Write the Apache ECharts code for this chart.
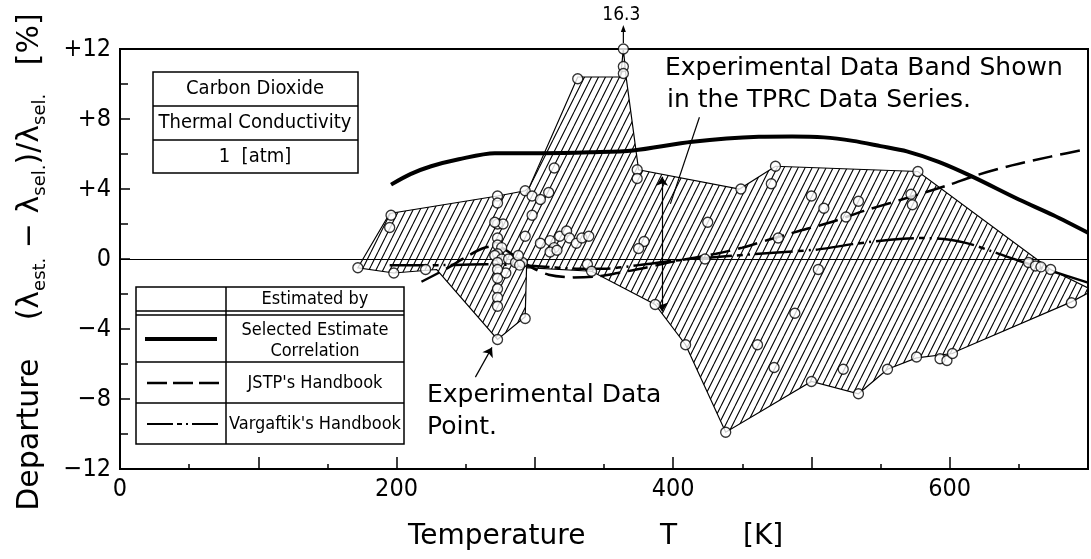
<!DOCTYPE html>
<html>
<head>
<meta charset="utf-8">
<script src="https://cdn.jsdelivr.net/npm/echarts@6/dist/echarts.min.js"></script>
<style>
  html, body { margin: 0; padding: 0; background: #fff; }
  #chart { width: 1091px; height: 559px; }
</style>
</head>
<body>
<div id="chart"></div>
<script>
// ---- axis ranges ----
const xMin = 0, xMax = 700, xStep = 100;
const yMin = -12, yMax = 12, yStep = 4;

// ---- estimate curves: temperature [K] and departure [%] ----
const selK = [196, 210, 225, 245, 271, 305, 340, 371, 414, 462, 486, 509, 530, 550, 569, 592, 616, 650, 675, 700];
const selV = [4.25, 4.85, 5.3, 5.7, 6.05, 6.05, 6.1, 6.2, 6.7, 6.98, 7.0, 6.95, 6.75, 6.45, 6.15, 5.55, 4.72, 3.4, 2.5, 1.5];

const jstpK = [218, 235, 250, 262, 272, 285, 297, 310, 328, 345, 360, 380, 400, 431, 450, 469, 491, 514, 538, 557, 598, 620, 645, 673, 700];
const jstpV = [-1.3, -0.6, 0.1, 0.6, 0.75, 0.2, -0.45, -0.9, -1.05, -1.0, -0.8, -0.5, -0.15, 0.3, 0.65, 1.1, 1.6, 2.1, 2.75, 3.2, 4.2, 4.8, 5.35, 5.85, 6.3];

const vargK = [195, 230, 265, 300, 330, 350, 375, 400, 414, 462, 505, 530, 557, 580, 600, 615, 630, 650, 674, 700];
const vargV = [-0.35, -0.35, -0.3, -0.4, -0.55, -0.55, -0.35, -0.1, 0.0, 0.3, 0.55, 0.85, 1.1, 1.2, 1.1, 0.85, 0.45, -0.1, -0.7, -1.35];

// ---- TPRC experimental data band (outline, upper edge then lower edge) ----
const bandUpperK = [172, 195, 273, 293, 296, 331, 362, 364, 366, 375, 448, 474, 577, 673, 700];
const bandUpperV = [-0.5, 2.6, 3.6, 3.9, 4.1, 10.4, 10.4, 12, 10.4, 5.1, 4.0, 5.3, 5.0, -0.6, -1.65];
const bandLowerK = [700, 688, 607, 602, 576, 555, 534, 500, 438, 409, 387, 341, 294, 293, 273, 229, 198, 172];
const bandLowerV = [-1.95, -2.45, -5.2, -5.4, -5.65, -6.3, -7.7, -7.0, -9.9, -4.9, -2.6, -0.7, -0.5, -3.3, -4.6, -0.6, -0.8, -0.5];

// ---- experimental data points ----
const pointK = [172, 196, 195, 198, 221,
  273, 273, 293, 298, 304, 310, 314, 331, 364, 364, 364, 374, 374,
  298, 273, 277, 271, 293, 273, 273, 276, 273, 271, 276, 281, 286, 291, 288, 289, 273, 279, 273, 273, 273, 273, 273, 293, 273,
  304, 311, 314, 318, 323, 325, 330, 334, 339, 311, 316, 338, 341,
  379, 375, 387, 409, 425, 423, 438,
  449, 474, 471, 500, 509, 534, 525, 476, 505, 488, 461, 473, 500, 523, 534, 555,
  577, 572, 573, 576, 593, 598, 602,
  657, 662, 666, 673, 688];
const pointV = [-0.5, 2.5, 1.8, -0.8, -0.6,
  3.6, 3.2, 3.9, 3.6, 3.4, 3.8, 5.2, 10.3, 16.3, 11.0, 10.6, 5.1, 4.6,
  2.5, 2.0, 2.0, 2.1, 1.3, 1.2, 0.8, 0.65, 0.3, 0.2, 0.0, 0.0, -0.2, -0.2, 0.2, -0.35, -0.2, -0.8, -0.6, -1.1, -1.7, -2.2, -2.7, -3.4, -4.6,
  0.9, 1.05, 0.65, 1.3, 1.6, 1.2, 0.9, 1.2, 1.3, 0.4, 0.5, -0.3, -0.7,
  1.0, 0.6, -2.6, -4.9, 2.1, 0.0, -9.9,
  4.0, 5.3, 4.3, 3.6, 2.9, 3.3, 2.4, 1.2, -0.6, -3.1, -4.9, -6.2, -7.0, -6.3, -7.7, -6.3,
  5.0, 3.7, 3.1, -5.6, -5.7, -5.8, -5.4,
  -0.2, -0.4, -0.45, -0.6, -2.5];

// ---- fonts ----
const NARROW = "'Liberation Sans Narrow','DejaVu Sans Condensed','Roboto Condensed','Liberation Sans',sans-serif";
const WIDE = "'DejaVu Sans','Verdana',sans-serif";

const pairs = (ks, vs) => ks.map((k, i) => [k, vs[i]]);

// diagonal hatching tile for the data band
function hatchTile() {
  const c = document.createElement('canvas');
  c.width = 7; c.height = 14;
  const g = c.getContext('2d');
  g.strokeStyle = '#000';
  g.lineWidth = 1.1;
  g.beginPath();
  for (const dx of [-7, 0, 7]) { g.moveTo(dx, 14); g.lineTo(dx + 7, 0); }
  g.stroke();
  return c;
}
const hatch = hatchTile();

// points above the axis are drawn on the top edge
const scatterData = pointK.map((k, i) => [k, Math.min(pointV[i], yMax)]);
const offScale = pointK.map((k, i) => [k, pointV[i]]).filter(p => p[1] > yMax);

const chart = echarts.init(document.getElementById('chart'), null, { renderer: 'canvas' });

const lineBase = { type: 'line', showSymbol: false, smooth: 0.3, z: 3 };

const textStyle = (x, y, text, font, size, align) => ({
  type: 'text', x: x, y: y,
  style: { text: text, fontFamily: font, fontSize: size, fill: '#000', align: align || 'left', verticalAlign: 'middle' }
});
const hline = (x1, x2, y, w) => ({ type: 'line', shape: { x1: x1, y1: y, x2: x2, y2: y }, style: { stroke: '#000', lineWidth: w || 1.5 } });

const graphics = [
  // axis titles
  {
    type: 'text', x: 30, y: 262, rotation: Math.PI / 2,
    style: {
      text: '{m|Departure    (\u03bb}{s|est.}{m| \u2212 \u03bb}{s|sel.}{m|)/\u03bb}{s|sel.}{m|   [%]}',
      align: 'center', verticalAlign: 'middle', fill: '#000',
      rich: {
        m: { fontFamily: WIDE, fontSize: 30, lineHeight: 38, fill: '#000' },
        s: { fontFamily: WIDE, fontSize: 18, lineHeight: 18, verticalAlign: 'bottom', fill: '#000' }
      }
    }
  },
  textStyle(408, 537, 'Temperature', WIDE, 28),
  textStyle(660, 537, 'T', WIDE, 28),
  textStyle(743, 537, '[K]', WIDE, 28),

  // annotations
  textStyle(665, 68, 'Experimental Data Band Shown', WIDE, 25),
  textStyle(667, 100, 'in the TPRC Data Series.', WIDE, 25),
  textStyle(427, 395, 'Experimental Data', WIDE, 25),
  textStyle(427, 427, 'Point.', WIDE, 25),

  // substance / property box
  { type: 'rect', shape: { x: 153, y: 72, width: 205, height: 101 }, style: { fill: '#fff', stroke: '#000', lineWidth: 1.5 } },
  hline(153, 358, 106), hline(153, 358, 140),
  textStyle(255, 89, 'Carbon Dioxide', NARROW, 20, 'center'),
  textStyle(255, 123, 'Thermal Conductivity', NARROW, 20, 'center'),
  textStyle(255, 157, '1  [atm]', NARROW, 20, 'center'),

  // legend table
  { type: 'rect', shape: { x: 136, y: 287, width: 268, height: 157 }, style: { fill: '#fff', stroke: '#000', lineWidth: 1.5 } },
  { type: 'line', shape: { x1: 226, y1: 287, x2: 226, y2: 444 }, style: { stroke: '#000', lineWidth: 1.5 } },
  hline(136, 404, 311, 1.3), hline(136, 404, 315, 1.3), hline(136, 404, 362), hline(136, 404, 403),
  textStyle(315, 299, 'Estimated by', NARROW, 18, 'center'),
  textStyle(315, 330, 'Selected Estimate', NARROW, 18, 'center'),
  textStyle(315, 351, 'Correlation', NARROW, 18, 'center'),
  textStyle(315, 383, "JSTP's Handbook", NARROW, 18, 'center'),
  textStyle(315, 424, "Vargaftik's Handbook", NARROW, 18, 'center'),
  { type: 'line', shape: { x1: 145, y1: 339, x2: 217, y2: 339 }, style: { stroke: '#000', lineWidth: 4 } },
  { type: 'line', shape: { x1: 147, y1: 383, x2: 219, y2: 383 }, style: { stroke: '#000', lineWidth: 2.5, lineDash: [20, 6] } },
  { type: 'line', shape: { x1: 147, y1: 424, x2: 219, y2: 424 }, style: { stroke: '#000', lineWidth: 2, lineDash: [26, 4, 5, 4, 2, 4] } }
];

const option = {
  animation: false,
  backgroundColor: '#fff',
  grid: { left: 120, top: 49, width: 980, height: 420, show: true, borderColor: '#000', borderWidth: 2, backgroundColor: 'transparent' },
  xAxis: {
    type: 'value', min: xMin, max: xMax, interval: xStep,
    axisLine: { show: true, onZero: false, lineStyle: { color: '#000', width: 2 } },
    axisTick: { show: true, inside: true, length: 12, lineStyle: { color: '#000', width: 1.5 } },
    minorTick: { show: true, splitNumber: 2, length: 5, lineStyle: { color: '#000', width: 1.5 } },
    axisLabel: { color: '#000', fontFamily: NARROW, fontSize: 25, margin: 8,
      formatter: v => (v % 200 === 0 ? String(v) : '') },
    splitLine: { show: false }
  },
  yAxis: {
    type: 'value', min: yMin, max: yMax, interval: yStep,
    axisLine: { show: true, onZero: false, lineStyle: { color: '#000', width: 2 } },
    axisTick: { show: true, inside: true, length: 10, lineStyle: { color: '#000', width: 1.5 } },
    minorTick: { show: true, splitNumber: 2, length: 8, lineStyle: { color: '#000', width: 1.5 } },
    axisLabel: { color: '#000', fontFamily: NARROW, fontSize: 25, margin: 9,
      formatter: v => (v > 0 ? '+' + v : (v < 0 ? '\u2212' + Math.abs(v) : '0')) },
    splitLine: { show: false }
  },
  series: [
    {
      name: 'TPRC band',
      type: 'custom',
      clip: true,
      z: 1,
      data: [[bandUpperK[0], bandUpperV[0]]],
      renderItem: (params, api) => {
        const ks = bandUpperK.concat(bandLowerK);
        const vs = bandUpperV.concat(bandLowerV);
        const pts = ks.map((k, i) => api.coord([k, vs[i]]));
        return {
          type: 'polygon',
          shape: { points: pts },
          style: { fill: { image: hatch, repeat: 'repeat' }, stroke: '#000', lineWidth: 1.2 }
        };
      }
    },
    {
      name: 'guides',
      type: 'line',
      data: [],
      clip: false,
      z: 2,
      markLine: {
        silent: true,
        symbol: 'none',
        label: { show: false },
        lineStyle: { color: '#000', width: 1.2, type: 'solid' },
        data: [
          { yAxis: 0 },
          [ { coord: [392, 4.7], symbol: 'arrow', symbolSize: 9 }, { coord: [392, -3.0], symbol: 'arrow', symbolSize: 9 } ],
          [ { coord: [419, 8.1] }, { coord: [398, 3.15] } ],
          [ { coord: [257, -6.75] }, { coord: [269, -5.05], symbol: 'arrow', symbolSize: 9 } ]
        ]
      }
    },
    Object.assign({}, lineBase, {
      name: 'Selected Estimate Correlation',
      data: pairs(selK, selV),
      lineStyle: { color: '#000', width: 4, type: 'solid' }
    }),
    Object.assign({}, lineBase, {
      name: "JSTP's Handbook",
      data: pairs(jstpK, jstpV),
      lineStyle: { color: '#000', width: 2.5, type: [20, 8] }
    }),
    Object.assign({}, lineBase, {
      name: "Vargaftik's Handbook",
      data: pairs(vargK, vargV),
      lineStyle: { color: '#000', width: 2.5, type: [38, 5, 6, 5, 2, 5] }
    }),
    {
      name: 'Experimental Data Point',
      type: 'scatter',
      z: 5,
      symbol: 'circle',
      symbolSize: 10,
      itemStyle: { color: '#fff', borderColor: '#000', borderWidth: 1.3 },
      data: scatterData
    }
  ],
  graphic: graphics
};

chart.setOption(option);

// upward arrow and value label for points beyond the top of the axis
offScale.forEach(p => {
  const base = chart.convertToPixel({ gridIndex: 0 }, [p[0], yMax]);
  const x = base[0], y0 = base[1] - 6, y1 = base[1] - 24;
  graphics.push({ type: 'line', shape: { x1: x, y1: y0, x2: x, y2: y1 + 4 }, style: { stroke: '#000', lineWidth: 1.2 } });
  graphics.push({ type: 'polygon', shape: { points: [[x, y1], [x - 2.5, y1 + 7], [x + 2.5, y1 + 7]] }, style: { fill: '#000' } });
  graphics.push(textStyle(x - 2, y1 - 10, String(p[1]), NARROW, 19, 'center'));
});
option.graphic = graphics;
chart.setOption(option, true);
</script>
</body>
</html>
